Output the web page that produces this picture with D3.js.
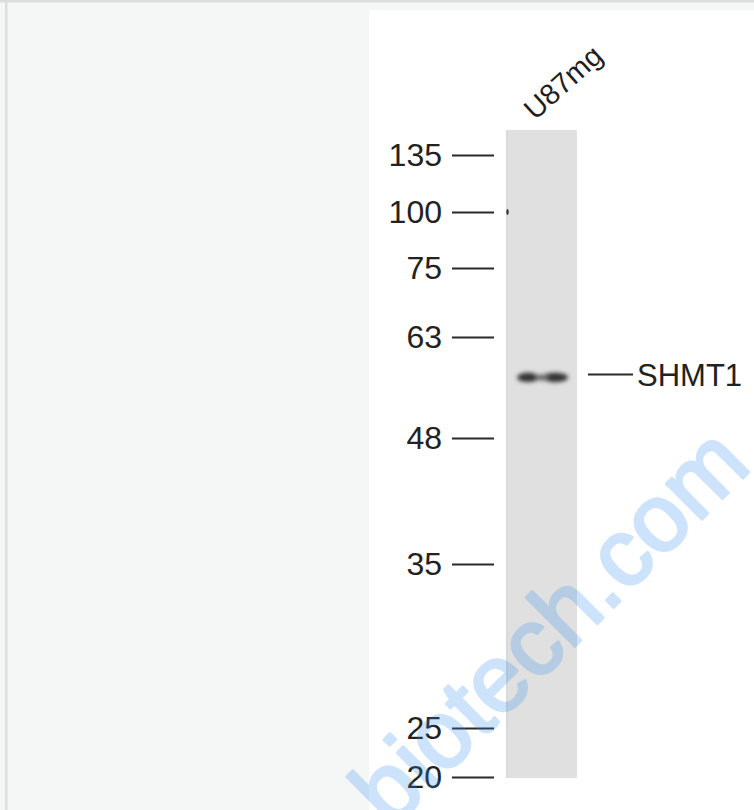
<!DOCTYPE html>
<html>
<head>
<meta charset="utf-8">
<script src="https://cdn.jsdelivr.net/npm/d3@7"></script>
<style>
  html, body { margin: 0; padding: 0; background: #ffffff; }
  svg { display: block; }
  text { font-family: "Liberation Sans", Arial, sans-serif; }
</style>
</head>
<body>
<div id="chart"></div>
<script>
// ---- data ----
const laneNames = ["U87mg"];
const markerKDa = [135, 100, 75, 63, 48, 35, 25, 20];
// relative mobility (fraction of lane length) of each marker
const markerMobility = [0.0386, 0.1265, 0.2130, 0.3194, 0.4753, 0.6698, 0.9228, 0.9985];
const bandTargets = ["SHMT1"];
const bandKDa = [56.5];
const speckKDa = [100];
const watermarkText = "biotech.com";

// ---- layout ----
const W = 754, H = 810;
const svg = d3.select("#chart").append("svg").attr("width", W).attr("height", H);

const defs = svg.append("defs");
defs.append("filter").attr("id", "blur").attr("x", "-50%").attr("y", "-150%").attr("width", "200%").attr("height", "400%")
  .append("feGaussianBlur").attr("stdDeviation", 1.9);
defs.append("filter").attr("id", "blur2").attr("x", "-100%").attr("y", "-100%").attr("width", "300%").attr("height", "300%")
  .append("feGaussianBlur").attr("stdDeviation", 0.6);

// page frame
svg.append("rect").attr("x", 0).attr("y", 0).attr("width", W).attr("height", H).attr("fill", "#f5f6f6");
svg.append("rect").attr("x", 0).attr("y", 0).attr("width", W).attr("height", 2.5).attr("fill", "#dcdedd");
svg.append("rect").attr("x", 5).attr("y", 0).attr("width", 2.5).attr("height", H).attr("fill", "#dcdedd");
svg.append("rect").attr("x", 369).attr("y", 10).attr("width", W - 369).attr("height", H - 10).attr("fill", "#ffffff");

// scales
const laneTop = 130, laneBottom = 778;
const yMob = d3.scaleLinear().domain([0, 1]).range([laneTop, laneBottom]);
const yKDa = d3.scaleLog().domain(markerKDa).range(markerMobility.map(yMob));
const xLane = d3.scaleBand().domain(laneNames).range([506, 577]).padding(0);

// lane
const lanes = svg.append("g").selectAll("g").data(laneNames).join("g");
lanes.append("rect")
  .attr("x", d => xLane(d)).attr("y", laneTop)
  .attr("width", xLane.bandwidth()).attr("height", laneBottom - laneTop)
  .attr("fill", "#e0e0e0");
lanes.append("rect")
  .attr("x", d => xLane(d)).attr("y", laneTop)
  .attr("width", 2).attr("height", laneBottom - laneTop)
  .attr("fill", "#d9d9d9");

// lane labels
lanes.append("text")
  .attr("transform", d => `translate(${xLane(d) + 29},121) rotate(-42)`)
  .attr("font-size", 29).attr("fill", "#1e1e1e")
  .text(d => d);

// marker axis
const axis = d3.axisLeft(yKDa).tickValues(markerKDa).tickSize(42).tickPadding(10).tickFormat(d3.format("d"));
const axG = svg.append("g").attr("transform", "translate(494,0)").call(axis);
axG.select(".domain").remove();
axG.selectAll(".tick line").attr("stroke", "#2a2a2a").attr("stroke-width", 2);
axG.selectAll(".tick text").attr("font-size", 32).attr("fill", "#222")
  .attr("font-family", "'Liberation Sans', Arial, sans-serif");

// small speck at lane edge
svg.append("g").selectAll("ellipse").data(speckKDa).join("ellipse")
  .attr("cx", xLane(laneNames[0]) + 1.5).attr("cy", d => yKDa(d))
  .attr("rx", 1.2).attr("ry", 3).attr("fill", "#333").attr("filter", "url(#blur2)");

// band
const bx = xLane(laneNames[0]);
const bands = svg.append("g").selectAll("g").data(bandKDa).join("g").attr("filter", "url(#blur)");
bands.append("ellipse").attr("cx", bx + 22).attr("cy", d => yKDa(d)).attr("rx", 11).attr("ry", 4.6).attr("fill", "#333");
bands.append("ellipse").attr("cx", bx + 49).attr("cy", d => yKDa(d)).attr("rx", 13).attr("ry", 4.8).attr("fill", "#333");
bands.append("ellipse").attr("cx", bx + 36).attr("cy", d => yKDa(d)).attr("rx", 7).attr("ry", 3).attr("fill", "#666");

// band label
const lab = svg.append("g").selectAll("g").data(bandTargets).join("g");
lab.append("line")
  .attr("x1", 588).attr("x2", 633)
  .attr("y1", (d, i) => yKDa(bandKDa[i]) - 3).attr("y2", (d, i) => yKDa(bandKDa[i]) - 3)
  .attr("stroke", "#2a2a2a").attr("stroke-width", 2);
lab.append("text")
  .attr("x", 637).attr("y", (d, i) => yKDa(bandKDa[i]) - 3)
  .attr("dy", "0.36em").attr("font-size", 31).attr("fill", "#222")
  .text(d => d);

// watermark
svg.append("g").attr("opacity", 0.24)
  .append("text")
  .attr("transform", "translate(391,830) rotate(-45)")
  .attr("font-size", 95)
  .attr("fill", "#2f8ff0").attr("stroke", "#2f8ff0").attr("stroke-width", 3).attr("stroke-linejoin", "round")
  .text(watermarkText);
</script>
</body>
</html>
